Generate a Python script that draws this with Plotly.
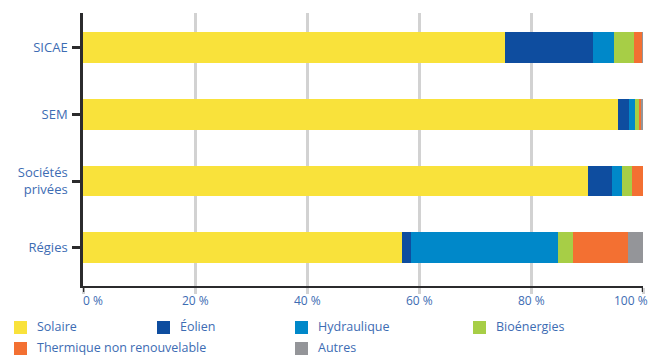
import plotly.graph_objects as go

# Share of installed capacity by technology, per operator type (%)
categories = ["SICAE", "SEM", "Sociétés<br>privées", "Régies"]
solaire = [75.4, 95.5, 90.2, 57.0]
eolien = [15.7, 2.0, 4.2, 1.6]
hydraulique = [3.7, 1.1, 1.9, 26.2]
bioenergies = [3.6, 0.6, 1.8, 2.7]
thermique = [1.5, 0.6, 1.9, 9.8]
autres = [0.1, 0.2, 0.0, 2.7]

series_names = ["Solaire", "Éolien", "Hydraulique", "Bioénergies",
                "Thermique non renouvelable", "Autres"]
series_values = [solaire, eolien, hydraulique, bioenergies, thermique, autres]
series_colors = ["#f9e23b", "#0e4d9f", "#0088c9", "#a7ce46", "#f37032", "#949599"]

tick_values = [0, 20, 40, 60, 80, 100]
tick_labels = ["0 %", "20 %", "40 %", "60 %", "80 %", "100 %"]

TEXT = "#3d6cb3"
FONT = "Open Sans"
W, H = 648, 356
ML, MR, MT, MB = 83, 5, 13, 70
PW, PH = W - ML - MR, H - MT - MB

fig = go.Figure()
for name, vals, col in zip(series_names, series_values, series_colors):
    fig.add_trace(go.Bar(
        y=categories, x=vals, name=name, orientation="h",
        marker=dict(color=col, line=dict(width=0)),
        showlegend=False,
    ))

# helpers converting pixel positions to paper coordinates
def px_x(p):
    return (p - ML) / PW

def px_y(p):
    return (H - MB - p) / PH

shapes = []
annotations = []

# x tick labels, first/last kept inside the frame
anchors = ["left", "center", "center", "center", "center", "right"]
shifts = [-1, 0, 0, 0, 0, 6]
for v, lab, anc, sh in zip(tick_values, tick_labels, anchors, shifts):
    annotations.append(dict(
        x=v, xref="x", y=px_y(300), yref="paper", text=lab, showarrow=False,
        xanchor=anc, yanchor="middle", xshift=sh, borderpad=0,
        font=dict(family=FONT, size=12, color=TEXT),
    ))

# dark end ticks under the axis
for v in [0, 100]:
    shapes.append(dict(type="line", xref="x", yref="paper", x0=v, x1=v,
                       y0=0, y1=px_y(292), line=dict(color="#2b2b2d", width=2.5)))

# key: swatch left edge (px), row centre (px)
key_slots = [(14, 327.5), (157, 327.5), (295, 327.5), (473, 327.5),
             (14, 348.5), (295, 348.5)]
for name, col, (kx, ky) in zip(series_names, series_colors, key_slots):
    shapes.append(dict(type="rect", xref="paper", yref="paper",
                       x0=px_x(kx), x1=px_x(kx + 13),
                       y0=px_y(ky + 6.5), y1=px_y(ky - 6.5),
                       fillcolor=col, line=dict(width=0)))
    annotations.append(dict(
        x=px_x(kx + 21.5), xref="paper", y=px_y(ky - 1.5), yref="paper",
        text=name, showarrow=False, xanchor="left", yanchor="middle",
        borderpad=0,
        font=dict(family=FONT, size=12.5, color=TEXT),
    ))

fig.update_layout(
    barmode="stack",
    bargap=0.537,
    width=W, height=H,
    margin=dict(l=ML, r=MR, t=MT, b=MB, pad=0),
    paper_bgcolor="white", plot_bgcolor="white",
    font=dict(family=FONT, size=13, color=TEXT),
    shapes=shapes,
    annotations=annotations,
    xaxis=dict(
        range=[0, 100], tickvals=tick_values, showticklabels=False,
        showgrid=True, gridcolor="#d2d2d2", gridwidth=2.5,
        ticks="outside", ticklen=6, tickwidth=2.5, tickcolor="#d2d2d2",
        showline=True, linecolor="#2b2b2d", linewidth=2,
        zeroline=False, fixedrange=True,
    ),
    yaxis=dict(
        categoryorder="array", categoryarray=categories[::-1],
        range=[-0.572, 3.516],
        showline=True, linecolor="#2b2b2d", linewidth=2.5,
        ticks="outside", ticklen=8, tickwidth=2.5, tickcolor="#2b2b2d",
        tickfont=dict(family=FONT, size=13, color=TEXT),
        ticklabelstandoff=2,
        showgrid=False, zeroline=False, fixedrange=True,
    ),
)

fig.write_html("out.html")
